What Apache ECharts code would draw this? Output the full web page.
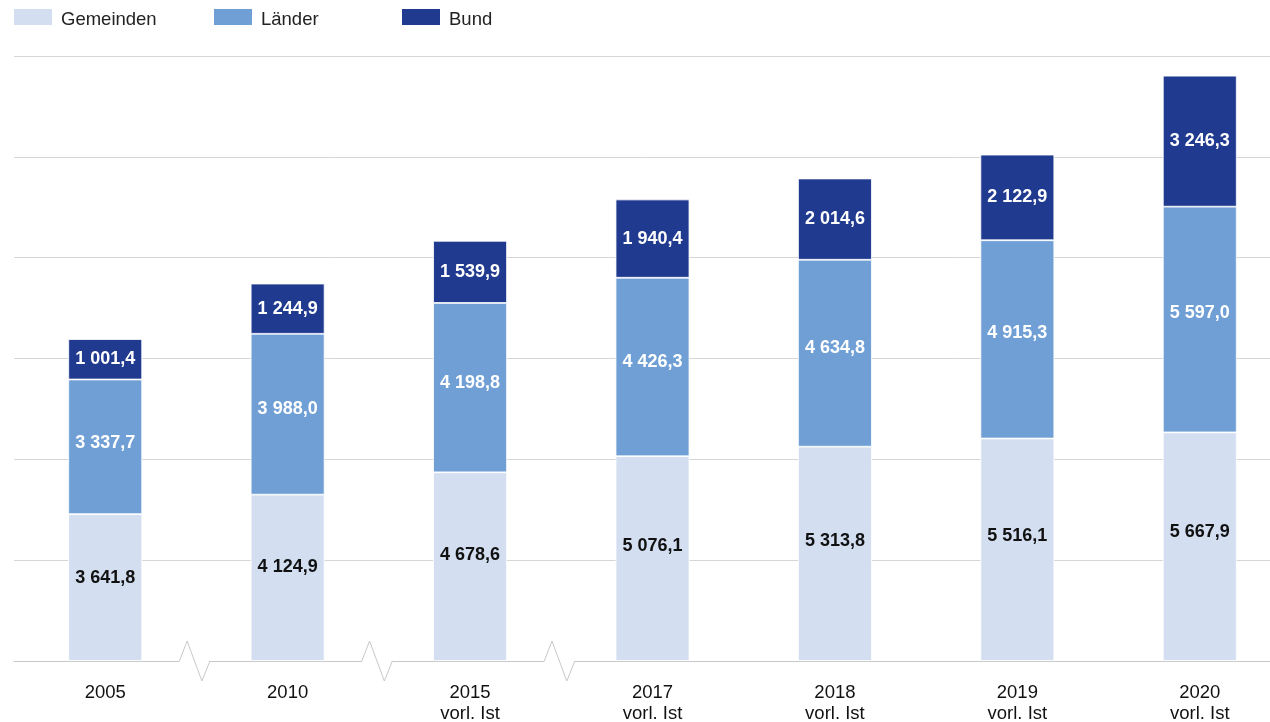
<!DOCTYPE html>
<html>
<head>
<meta charset="utf-8">
<script src="https://cdn.jsdelivr.net/npm/echarts@6/dist/echarts.min.js"></script>
<style>
  html, body { margin: 0; padding: 0; background: #fff; }
  #chart { width: 1270px; height: 722px; }
</style>
</head>
<body>
<div id="chart"></div>
<script>
const years = ['2005', '2010', '2015\nvorl. Ist', '2017\nvorl. Ist', '2018\nvorl. Ist', '2019\nvorl. Ist', '2020\nvorl. Ist']
const gemeinden = [3641.8, 4124.9, 4678.6, 5076.1, 5313.8, 5516.1, 5667.9]
const laender = [3337.7, 3988.0, 4198.8, 4426.3, 4634.8, 4915.3, 5597.0]
const bund = [1001.4, 1244.9, 1539.9, 1940.4, 2014.6, 2122.9, 3246.3]
// axis breaks sit after these category indices
const breakAfter = [0, 1, 2]

const fmt = (v) => {
  const [i, d] = v.toFixed(1).split('.')
  return i.replace(/\B(?=(\d{3})+(?!\d))/g, ' ') + ',' + d
}

const chart = echarts.init(document.getElementById('chart'))

const labelStyle = (color, yPos) => ({
  show: true,
  position: ['50%', yPos],
  align: 'center',
  verticalAlign: 'middle',
  color: color,
  fontFamily: 'Liberation Sans, Arial, sans-serif',
  fontWeight: 'bold',
  fontSize: 18,
  formatter: (p) => fmt(p.value)
})

const legendBase = {
  top: 7,
  padding: 0,
  icon: 'rect',
  itemWidth: 40,
  itemHeight: 18,
  itemGap: 10,
  formatter: '{t|{name}}',
  textStyle: {
    rich: {
      t: { fontFamily: 'Liberation Sans, Arial, sans-serif', fontSize: 18.5, color: '#222', padding: [6, 0, 0, 3] }
    }
  },
  selectedMode: false
}

chart.setOption({
  animation: false,
  color: ['#D3DEF1', '#6F9FD4', '#1F3A8F'],
  legend: [
    { ...legendBase, left: 12, data: ['Gemeinden'] },
    { ...legendBase, left: 212, data: ['Länder'] },
    { ...legendBase, left: 400, data: ['Bund'] }
  ],
  grid: { left: 14, top: 56, width: 1277, bottom: 61, outerBoundsMode: 'none' },
  xAxis: {
    type: 'category',
    data: years,
    axisTick: { show: false },
    axisLine: { lineStyle: { color: '#c8c8c8', width: 1 } },
    axisLabel: {
      color: '#111',
      fontFamily: 'Liberation Sans, Arial, sans-serif',
      fontSize: 18.5,
      lineHeight: 21,
      margin: 21
    }
  },
  yAxis: {
    type: 'value',
    min: 0,
    max: 15000,
    interval: 2500,
    axisLabel: { show: false },
    axisLine: { show: false },
    axisTick: { show: false },
    splitLine: { lineStyle: { color: '#d6d6d6', width: 1 } }
  },
  series: [
    {
      name: 'Gemeinden', type: 'bar', stack: 'total', data: gemeinden, barWidth: '40.5%',
      itemStyle: { borderColor: '#fff', borderWidth: 0.8 },
      label: labelStyle('#111', '43.8%')
    },
    {
      name: 'Länder', type: 'bar', stack: 'total', data: laender,
      itemStyle: { borderColor: '#fff', borderWidth: 0.8 },
      label: labelStyle('#fff', '47%')
    },
    {
      name: 'Bund', type: 'bar', stack: 'total', data: bund,
      itemStyle: { borderColor: '#fff', borderWidth: 0.8 },
      label: labelStyle('#fff', '50%')
    },
    {
      type: 'custom',
      silent: true,
      z: 10,
      data: breakAfter,
      renderItem: (params, api) => {
        const i = api.value(0)
        const a = api.coord([i, 0])
        const b = api.coord([i + 1, 0])
        const cx = (a[0] + b[0]) / 2 - 1
        const y = a[1]
        return {
          type: 'group',
          children: [
            { type: 'rect', shape: { x: cx - 16, y: y - 2, width: 30, height: 4 }, style: { fill: '#fff' } },
            {
              type: 'polyline',
              shape: { points: [[cx - 16, y], [cx - 8.3, y - 20], [cx + 6.5, y + 20], [cx + 14.5, y]] },
              style: { stroke: '#c8c8c8', lineWidth: 1, fill: null }
            }
          ]
        }
      }
    }
  ]
})
</script>
</body>
</html>
